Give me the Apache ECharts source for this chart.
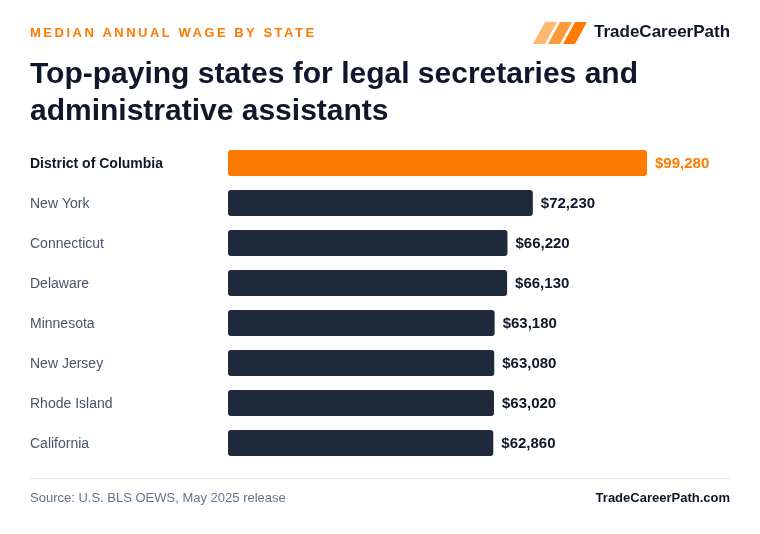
<!DOCTYPE html>
<html>
<head>
<meta charset="utf-8">
<script src="https://cdn.jsdelivr.net/npm/echarts@6/dist/echarts.min.js"></script>
<style>
  html, body { margin: 0; padding: 0; background: #fff; }
  #chart { width: 760px; height: 534px; }
</style>
</head>
<body>
<div id="chart"></div>
<script>
// data
const states = ['District of Columbia', 'New York', 'Connecticut', 'Delaware', 'Minnesota', 'New Jersey', 'Rhode Island', 'California']
const wages = [99280, 72230, 66220, 66130, 63180, 63080, 63020, 62860]
const highlight = 'District of Columbia'

const KICKER = 'MEDIAN ANNUAL WAGE BY STATE'
const FONT = '"Liberation Sans", Arial, sans-serif'
const ORANGE = '#ff7a00'
const NAVY = '#1e293b'

// zrender has no letter-spacing, so widen the kicker line at draw time only
const origFillText = CanvasRenderingContext2D.prototype.fillText
CanvasRenderingContext2D.prototype.fillText = function (t, x, y, w) {
  if (t === KICKER && 'letterSpacing' in this) {
    this.save()
    this.letterSpacing = '2.5px'
    origFillText.apply(this, arguments)
    this.restore()
    this.letterSpacing = '0px'
  } else {
    origFillText.apply(this, arguments)
  }
}

const chart = echarts.init(document.getElementById('chart'))

// little slanted logo marks
function slant(x0, color) {
  return {
    type: 'polygon',
    shape: { points: [[x0 + 12, 22], [x0 + 24, 22], [x0 + 12, 44], [x0, 44]] },
    style: { fill: color }
  }
}

const option = {
  backgroundColor: '#ffffff',
  animation: false,
  grid: { left: 228, top: 143, width: 419, height: 320, containLabel: false },
  xAxis: {
    type: 'value',
    min: 0,
    max: 99280,
    show: false
  },
  yAxis: {
    type: 'category',
    inverse: true,
    data: states,
    axisLine: { show: false },
    axisTick: { show: false },
    splitLine: { show: false },
    axisLabel: {
      align: 'left',
      margin: 198,
      padding: [2, 0, 0, 0],
      fontFamily: FONT,
      fontSize: 14,
      color: '#475569',
      formatter: v => v === highlight ? '{hl|' + v + '}' : v,
      rich: {
        hl: { fontFamily: FONT, fontSize: 14, fontWeight: 'bold', color: '#0f172a' }
      }
    }
  },
  series: [{
    type: 'bar',
    barWidth: 26,
    data: wages.map((v, i) => ({
      value: v,
      itemStyle: { color: states[i] === highlight ? ORANGE : NAVY },
      label: { color: states[i] === highlight ? ORANGE : '#0f172a' }
    })),
    itemStyle: { borderRadius: 3 },
    label: {
      show: true,
      position: 'right',
      distance: 8,
      offset: [0, 1],
      fontFamily: FONT,
      fontSize: 15,
      fontWeight: 'bold',
      formatter: p => '$' + p.value.toLocaleString('en-US')
    }
  }],
  graphic: [
    {
      type: 'text', left: 30, top: 27,
      style: { text: KICKER, font: 'bold 13px ' + FONT, fill: ORANGE }
    },
    slant(533, '#ffb870'),
    slant(548, '#ff9a3c'),
    slant(563, ORANGE),
    {
      type: 'text', left: 594, top: 24,
      style: { text: 'TradeCareerPath', font: 'bold 17px ' + FONT, fill: '#0f172a' }
    },
    {
      type: 'text', left: 30, top: 56,
      style: {
        text: 'Top-paying states for legal secretaries and\nadministrative assistants',
        font: 'bold 30px ' + FONT, fill: '#0f172a', lineHeight: 37
      }
    },
    {
      type: 'rect', shape: { x: 30, y: 478, width: 700, height: 1 },
      style: { fill: '#e2e8f0' }
    },
    {
      type: 'text', left: 30, top: 492,
      style: { text: 'Source: U.S. BLS OEWS, May 2025 release', font: '13px ' + FONT, fill: '#64748b' }
    },
    {
      type: 'text', right: 30, top: 492,
      style: { text: 'TradeCareerPath.com', font: 'bold 13px ' + FONT, fill: '#0f172a' }
    }
  ]
}

chart.setOption(option)
</script>
</body>
</html>
